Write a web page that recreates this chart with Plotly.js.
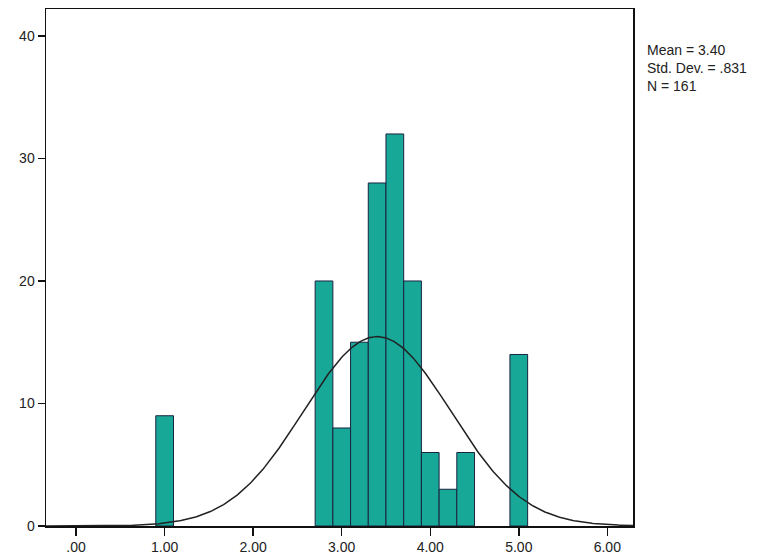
<!DOCTYPE html>
<html>
<head>
<meta charset="utf-8">
<script src="https://cdn.plot.ly/plotly-3.0.1.min.js"></script>
<style>html,body{margin:0;padding:0;background:#fff;}#chart{width:779px;height:560px;}</style>
</head>
<body>
<div id="chart"></div>
<script>
// Histogram bins (centers) and frequencies
var binCenters = [1.0, 2.8, 3.0, 3.2, 3.4, 3.6, 3.8, 4.0, 4.2, 4.4, 5.0];
var frequencies = [9, 20, 8, 15, 28, 32, 20, 6, 3, 6, 14];
var binWidth = 0.2;
// Summary statistics shown in the chart
var meanVal = 3.40;
var stdDev = 0.831;
var nCount = 161;
var xTickVals = [0, 1, 2, 3, 4, 5, 6];
var xTickText = ['.00', '1.00', '2.00', '3.00', '4.00', '5.00', '6.00'];
var yTickVals = [0, 10, 20, 30, 40];

// Normal curve scaled to the histogram (fitted from mean, sd, N)
var curveX = [], curveY = [];
for (var i = 0; i <= 400; i++) {
  var x = -0.34 + i * (6.63 / 400);
  curveX.push(x);
  var z = (x - meanVal) / stdDev;
  curveY.push(nCount * binWidth * Math.exp(-0.5 * z * z) / (stdDev * Math.sqrt(2 * Math.PI)));
}

var bars = {
  type: 'bar', x: binCenters, y: frequencies, width: binWidth,
  marker: {color: '#17a898', line: {color: '#1b2240', width: 1}},
  hoverinfo: 'x+y'
};
var curve = {
  type: 'scatter', mode: 'lines', x: curveX, y: curveY,
  line: {color: '#222222', width: 1.5}, hoverinfo: 'skip'
};

var fontFam = '"Liberation Sans", Arial, sans-serif';
var layout = {
  width: 779, height: 560,
  margin: {l: 46, r: 146, t: 9, b: 34},
  paper_bgcolor: '#ffffff', plot_bgcolor: '#ffffff',
  showlegend: false,
  font: {family: fontFam, size: 14, color: '#222'},
  xaxis: {
    range: [-0.34, 6.29], tickvals: xTickVals, ticktext: xTickText,
    showgrid: false, zeroline: false, showline: true, linecolor: '#111', linewidth: 1.5,
    mirror: true, ticks: 'outside', ticklen: 8, tickcolor: '#111', tickwidth: 1.5,
    tickfont: {family: fontFam, size: 14, color: '#222'}
  },
  yaxis: {
    range: [0, 42.2], tickvals: yTickVals,
    showgrid: false, zeroline: false, showline: true, linecolor: '#111', linewidth: 1.5,
    mirror: true, ticks: 'outside', ticklen: 7, tickcolor: '#111', tickwidth: 1.5,
    tickfont: {family: fontFam, size: 14, color: '#222'}
  },
  annotations: [{
    xref: 'paper', yref: 'paper', x: 1.02, y: 0.94, xanchor: 'left', yanchor: 'top',
    align: 'left', showarrow: false,
    text: 'Mean = ' + meanVal.toFixed(2) + '<br>Std. Dev. = ' + stdDev.toFixed(3).replace(/^0/, '') + '<br>N = ' + nCount,
    font: {family: fontFam, size: 14, color: '#222'}
  }]
};

Plotly.newPlot('chart', [bars, curve], layout, {displayModeBar: false, staticPlot: true});
</script>
</body>
</html>
